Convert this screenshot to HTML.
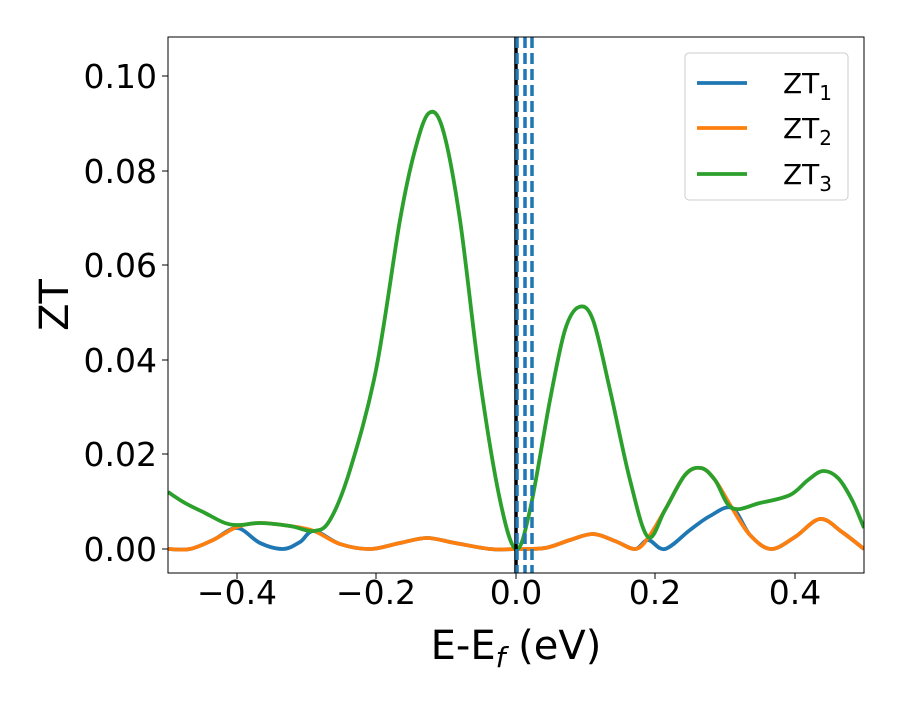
<!DOCTYPE html>
<html><head><meta charset="utf-8"><style>
body{margin:0;background:#fff}
svg text{font-family:"DejaVu Sans","Liberation Sans",sans-serif;fill:#000}
</style></head><body>
<svg width="900" height="700" xmlns="http://www.w3.org/2000/svg">
<defs><clipPath id="c"><rect x="168" y="37" width="696" height="536"/></clipPath></defs>
<g clip-path="url(#c)" fill="none" stroke-width="3.8" stroke-linejoin="round" stroke-linecap="butt">
<path id="blue" stroke="#1f77b4"/>
<path id="orange" stroke="#ff7f0e"/>
<path id="green" stroke="#2ca02c"/>
<line x1="516" y1="37" x2="516" y2="573" stroke="#000" stroke-width="3.5"/>
<line x1="517" y1="37" x2="517" y2="573" stroke="#1f77b4" stroke-width="3.5" stroke-dasharray="11,5"/>
<line x1="525" y1="37" x2="525" y2="573" stroke="#1f77b4" stroke-width="3.5" stroke-dasharray="11,5"/>
<line x1="532" y1="37" x2="532" y2="573" stroke="#1f77b4" stroke-width="3.5" stroke-dasharray="11,5"/>
</g>
<rect x="168" y="37" width="696" height="536" fill="none" stroke="#000" stroke-width="1"/>
<g stroke="#000" stroke-width="1">
<line x1="237" y1="573" x2="237" y2="579"/><line x1="376" y1="573" x2="376" y2="579"/><line x1="516" y1="573" x2="516" y2="579"/><line x1="655" y1="573" x2="655" y2="579"/><line x1="795" y1="573" x2="795" y2="579"/>
<line x1="162" y1="549" x2="168" y2="549"/><line x1="162" y1="454" x2="168" y2="454"/><line x1="162" y1="360" x2="168" y2="360"/><line x1="162" y1="265" x2="168" y2="265"/><line x1="162" y1="171" x2="168" y2="171"/><line x1="162" y1="76" x2="168" y2="76"/>
</g>
<g font-size="33" text-anchor="middle">
<text x="237" y="604">−0.4</text><text x="376" y="604">−0.2</text><text x="516" y="604">0.0</text><text x="655" y="604">0.2</text><text x="795" y="604">0.4</text>
</g>
<g font-size="33" text-anchor="end">
<text x="157" y="561">0.00</text><text x="157" y="466">0.02</text><text x="157" y="372">0.04</text><text x="157" y="277">0.06</text><text x="157" y="183">0.08</text><text x="157" y="88">0.10</text>
</g>
<text x="516" y="659" font-size="40" text-anchor="middle">E-E<tspan font-style="italic" font-size="28" dy="8">f</tspan><tspan dy="-8"> (eV)</tspan></text>
<text transform="translate(68,305) rotate(-90)" font-size="40" text-anchor="middle">ZT</text>
<rect x="685" y="53" width="163" height="147" rx="4" fill="#fff" stroke="#ccc" stroke-width="1"/>
<g stroke-width="3.8">
<line x1="697" y1="83" x2="747" y2="83" stroke="#1f77b4"/>
<line x1="697" y1="128" x2="747" y2="128" stroke="#ff7f0e"/>
<line x1="697" y1="174" x2="747" y2="174" stroke="#2ca02c"/>
</g>
<g font-size="28">
<text x="783" y="93">ZT<tspan font-size="20" dy="7">1</tspan></text>
<text x="783" y="138">ZT<tspan font-size="20" dy="7">2</tspan></text>
<text x="783" y="184">ZT<tspan font-size="20" dy="7">3</tspan></text>
</g>
</svg>
<script>
function cr(p){let d="M"+p[0][0]+","+p[0][1];for(let i=0;i<p.length-1;i++){const a=p[Math.max(0,i-1)],b=p[i],c=p[i+1],e=p[Math.min(p.length-1,i+2)];
d+=" C"+(b[0]+(c[0]-a[0])/6)+","+(b[1]+(c[1]-a[1])/6)+" "+(c[0]-(e[0]-b[0])/6)+","+(c[1]-(e[1]-b[1])/6)+" "+c[0]+","+c[1];}return d;}
const L=[[168,549],[190,549],[213,540],[237,527],[260,523],[290,526],[314,531]];
const Lb=[[168,549],[190,549],[213,540],[237,528],[260,543],[283,549],[300,542],[314,531]];
const M=[[340,544],[370,549],[400,543],[427,538],[455,543],[490,549],[516,549],[545,548],[570,540],[593,534],[615,541],[635,549],[648,538],[665,510],[685,475],[701,468],[715,480],[732,508]];
const Mb=[[340,544],[370,549],[400,543],[427,538],[455,543],[490,549],[516,549],[545,548],[570,540],[593,534],[615,541],[635,549],[648,540],[665,549],[690,530],[710,516],[732,508]];
const R=[[750,535],[771,549],[795,537],[820,519],[842,532],[864,549]];
document.getElementById("orange").setAttribute("d",cr(L.concat(M,R)));
document.getElementById("blue").setAttribute("d",cr(Lb.concat(Mb,R)));
const G=[[168,492],[185,503],[205,513],[225,523],[240,525],[260,523],[290,526],[314,531],[330,520],[350,470],[376,370],[400,220],[415,150],[429,113],[443,130],[460,220],[480,380],[500,500],[516,549],[530,510],[550,400],[565,330],[579,307],[593,320],[610,390],[630,480],[648,537],[665,510],[685,475],[701,468],[715,480],[732,508],[760,503],[790,495],[808,480],[823,471],[838,478],[852,500],[864,528]];
document.getElementById("green").setAttribute("d",cr(G));
</script>
</body></html>
